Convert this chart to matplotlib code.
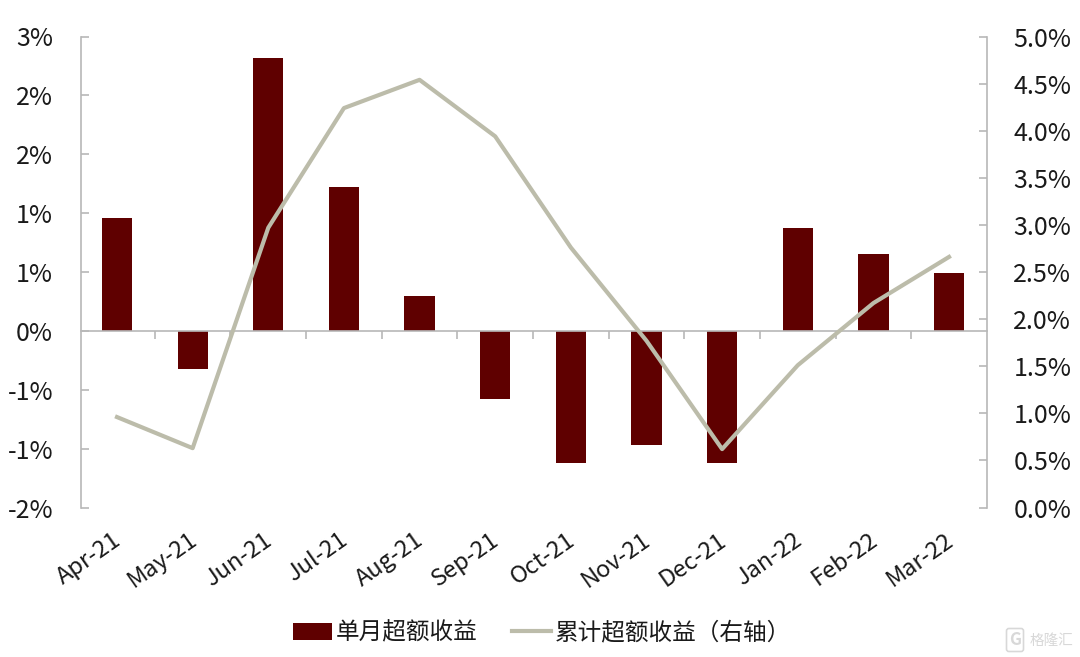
import numpy as np
import matplotlib
matplotlib.use('Agg')
import matplotlib.pyplot as plt

plt.rcParams['font.family'] = ['Noto Sans CJK SC', 'DejaVu Sans']

months = ['Apr-21', 'May-21', 'Jun-21', 'Jul-21', 'Aug-21', 'Sep-21',
          'Oct-21', 'Nov-21', 'Dec-21', 'Jan-22', 'Feb-22', 'Mar-22']
monthly = [0.96, -0.32, 2.32, 1.22, 0.30, -0.58, -1.12, -0.97, -1.12, 0.87, 0.65, 0.49]
cumul = [0.96, 0.63, 2.97, 4.24, 4.54, 3.94, 2.76, 1.77, 0.62, 1.51, 2.17, 2.66]
left_labels = ['-2%', '-1%', '-1%', '0%', '1%', '1%', '2%', '2%', '3%']
left_ticks = [-1.5, -1.0, -0.5, 0, 0.5, 1.0, 1.5, 2.0, 2.5]
right_ticks = [0, 0.5, 1, 1.5, 2, 2.5, 3, 3.5, 4, 4.5, 5]

BAR = '#5f0000'
LINE = '#bcbcaa'
GREY = '#b8b8b8'
TXT = '#1a1a1a'

fig = plt.figure(figsize=(10.8, 6.57), dpi=100)
ax = fig.add_axes([81 / 1080, 1 - 507.5 / 657, (987 - 81) / 1080, 471 / 657])
x = np.arange(len(months))
bars = ax.bar(x, monthly, width=0.4, color=BAR, label='单月超额收益', zorder=2)
ax.set_xlim(-0.476, 11.502)
ax.set_ylim(-1.5, 2.5)
ax.set_yticks(left_ticks)
ax.set_yticklabels(left_labels, fontsize=18, color=TXT, va='center_baseline')
ax.tick_params(axis='y', direction='in', length=6, width=1.2, color=GREY, pad=20)

# axe x sur le zero, ticks entre les mois
for s in ['top', 'right']:
    ax.spines[s].set_visible(False)
ax.spines['left'].set_color(GREY)
ax.spines['left'].set_linewidth(1.2)
ax.spines['bottom'].set_position(('data', 0))
ax.spines['bottom'].set_color(GREY)
ax.spines['bottom'].set_linewidth(1.2)
ax.set_xticks(x[:-1] + 0.5)
ax.set_xticklabels([])
ax.tick_params(axis='x', direction='out', length=6, width=1.2, color=GREY)
for i, m in enumerate(months):
    ax.annotate(m, xy=(i, 0), xycoords=('data', 'axes fraction'), xytext=(-3.5, -15),
                textcoords='offset points', rotation=35, ha='right', va='top',
                rotation_mode='anchor', fontsize=17, color=TXT)

ax2 = ax.twinx()
line, = ax2.plot(x, cumul, color=LINE, lw=3, label='累计超额收益（右轴）', zorder=3)
ax2.set_ylim(0, 5)
ax2.set_yticks(right_ticks)
ax2.set_yticklabels([f'{v:.1f}%' for v in right_ticks], fontsize=18, color=TXT, va='center_baseline')
ax2.tick_params(axis='y', direction='in', length=6, width=1.2, color=GREY, pad=19)
for s in ['top', 'left', 'bottom']:
    ax2.spines[s].set_visible(False)
ax2.spines['right'].set_color(GREY)
ax2.spines['right'].set_linewidth(1.2)

fig.legend(handles=[bars, line], loc='center', bbox_to_anchor=(542 / 1080, 1 - 633 / 657), ncol=2,
           frameon=False, fontsize=17, handlelength=1.65, handletextpad=0.15,
           columnspacing=1.5, labelcolor=TXT)

# filigrane
fig.text(1030 / 1080, 1 - 641 / 657, '格隆汇', fontsize=10.5, color='#d8d8d8', va='center', ha='left')
fig.text(1015 / 1080, 1 - 640 / 657, 'G', fontsize=12, color='#d8d8d8', va='center', ha='center',
         fontweight='bold',
         bbox=dict(boxstyle='round,pad=0.15', fc='none', ec='#d8d8d8', lw=1.2))

fig.savefig('out.png', dpi=100)
